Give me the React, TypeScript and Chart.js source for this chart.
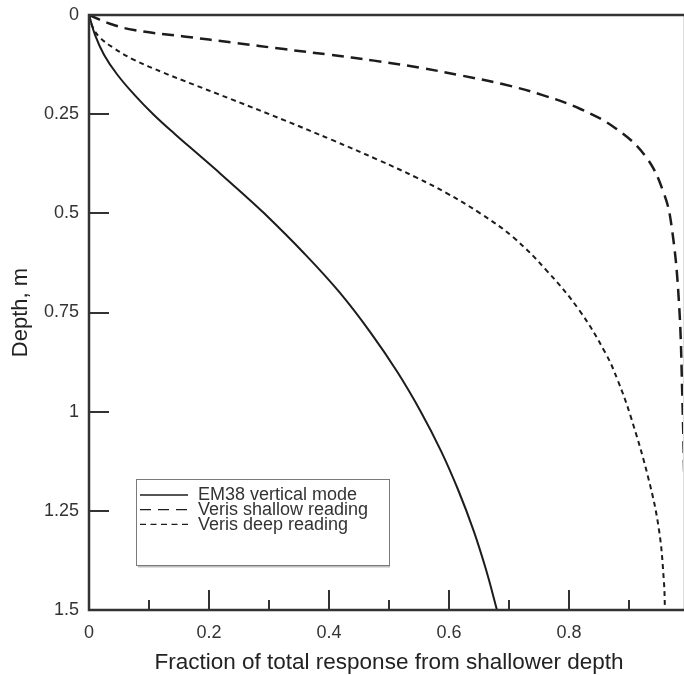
import React, { useEffect, useRef } from "react";
import { Chart, registerables } from "chart.js";

Chart.register(...registerables);

// ---- Data ----
const xTickValues = [0, 0.2, 0.4, 0.6, 0.8, 1];
const xTickLabels = ["0", "0.2", "0.4", "0.6", "0.8", "1"];
const xMinorTicks = [0.1, 0.3, 0.5, 0.7, 0.9];
const yTickValues = [0, 0.25, 0.5, 0.75, 1, 1.25, 1.5];
const yTickLabels = ["0", "0.25", "0.5", "0.75", "1", "1.25", "1.5"];

const xAxisTitle = "Fraction of total response from shallower depth";
const yAxisTitle = "Depth, m";

const seriesLabels = ["EM38 vertical mode", "Veris shallow reading", "Veris deep reading"];

// EM38 vertical mode (solid)
const em38Depth = [0, 0.05, 0.1, 0.15, 0.2, 0.25, 0.3, 0.35, 0.4, 0.45, 0.5, 0.6, 0.7, 0.8, 0.9, 1.0, 1.1, 1.2, 1.3, 1.4, 1.5];
const em38Fraction = [0, 0.01, 0.025, 0.047, 0.075, 0.107, 0.143, 0.181, 0.219, 0.256, 0.292, 0.358, 0.418, 0.469, 0.514, 0.553, 0.587, 0.616, 0.641, 0.662, 0.68];

// Veris shallow reading (long dashes)
const shallowDepth = [0, 0.022, 0.038, 0.054, 0.07, 0.086, 0.1, 0.115, 0.134, 0.153, 0.174, 0.202, 0.237, 0.286, 0.357, 0.449, 0.533, 0.718, 0.97, 1.25, 1.5];
const shallowFraction = [0, 0.035, 0.075, 0.158, 0.242, 0.325, 0.4, 0.475, 0.556, 0.622, 0.689, 0.756, 0.819, 0.878, 0.928, 0.958, 0.971, 0.983, 0.989, 0.993, 0.995];

// Veris deep reading (short dashes)
const deepDepth = [0, 0.03, 0.055, 0.084, 0.113, 0.146, 0.164, 0.214, 0.265, 0.315, 0.366, 0.41, 0.449, 0.5, 0.559, 0.643, 0.744, 0.853, 0.92, 1.013, 1.172, 1.298, 1.424, 1.5];
const deepFraction = [0, 0.006, 0.017, 0.042, 0.075, 0.125, 0.155, 0.24, 0.325, 0.405, 0.483, 0.546, 0.596, 0.652, 0.706, 0.762, 0.817, 0.861, 0.881, 0.903, 0.933, 0.95, 0.958, 0.96];

const FONT = "'Liberation Sans', Arial, Helvetica, sans-serif";
const INK = "#1c1c1c";
const TEXT = "#333333";

const toPoints = (depth: number[], frac: number[]) =>
  depth.map((d, i) => ({ x: frac[i], y: d }));

const frameAndTicks = {
  id: "frameAndTicks",
  afterDatasetsDraw(chart: any) {
    const { ctx, chartArea: a, scales } = chart;
    const x = scales.x;
    const y = scales.y;
    ctx.save();
    ctx.strokeStyle = "#dcdcdc";
    ctx.lineWidth = 1;
    ctx.beginPath();
    ctx.moveTo(683.5, a.top);
    ctx.lineTo(683.5, a.bottom);
    ctx.stroke();

    ctx.strokeStyle = "#333";
    ctx.lineCap = "butt";
    ctx.lineWidth = 2;
    ctx.beginPath();
    for (const v of xTickValues) {
      const px = Math.round(x.getPixelForValue(v));
      ctx.moveTo(px, a.bottom);
      ctx.lineTo(px, a.bottom - 20);
    }
    for (const v of xMinorTicks) {
      const px = Math.round(x.getPixelForValue(v));
      ctx.moveTo(px, a.bottom);
      ctx.lineTo(px, a.bottom - 10);
    }
    for (const v of yTickValues) {
      const py = Math.round(y.getPixelForValue(v));
      ctx.moveTo(a.left, py);
      ctx.lineTo(a.left + 20, py);
    }
    ctx.stroke();
    ctx.lineWidth = 2.5;
    ctx.beginPath();
    ctx.moveTo(chart.width, a.top);
    ctx.lineTo(a.left, a.top);
    ctx.lineTo(a.left, a.bottom);
    ctx.lineTo(chart.width, a.bottom);
    ctx.stroke();
    ctx.restore();
  },
};

const boxLegend = {
  id: "boxLegend",
  afterDraw(chart: any, _args: any, opts: any) {
    const { ctx } = chart;
    const left = opts.left;
    const top = opts.top;
    const w = opts.width;
    const h = opts.height;
    ctx.save();
    ctx.fillStyle = "#fff";
    ctx.fillRect(left, top, w, h);
    ctx.strokeStyle = "#bdbdbd";
    ctx.lineWidth = 2;
    ctx.beginPath();
    ctx.moveTo(left + 2, top + h + 1.5);
    ctx.lineTo(left + w + 1, top + h + 1.5);
    ctx.stroke();
    ctx.strokeStyle = "#7a7a7a";
    ctx.lineWidth = 1;
    ctx.strokeRect(left + 0.5, top + 0.5, w, h);

    const rows = [top + 16, top + 30.7, top + 45.4];
    chart.data.datasets.forEach((ds: any, i: number) => {
      const ry = rows[i];
      ctx.strokeStyle = INK;
      ctx.lineWidth = 1.3;
      ctx.setLineDash(ds.legendDash || []);
      ctx.beginPath();
      ctx.moveTo(left + 4, ry);
      ctx.lineTo(left + 52, ry);
      ctx.stroke();
      ctx.setLineDash([]);
      ctx.fillStyle = TEXT;
      ctx.font = `18px ${FONT}`;
      ctx.textBaseline = "middle";
      ctx.textAlign = "left";
      ctx.fillText(ds.label, left + 62, ry + 0.5);
    });
    ctx.restore();
  },
};

export default function App() {
  const canvasRef = useRef<HTMLCanvasElement | null>(null);

  useEffect(() => {
    const canvas = canvasRef.current;
    if (!canvas) return;
    const chart = new Chart(canvas, {
      type: "scatter",
      data: {
        datasets: [
          {
            label: seriesLabels[0],
            data: toPoints(em38Depth, em38Fraction),
            showLine: true,
            borderColor: INK,
            borderWidth: 2,
            pointRadius: 0,
            tension: 0.4,
            legendDash: [],
          } as any,
          {
            label: seriesLabels[1],
            data: toPoints(shallowDepth, shallowFraction),
            showLine: true,
            borderColor: INK,
            borderWidth: 2.5,
            borderDash: [12, 7],
            pointRadius: 0,
            tension: 0.4,
            legendDash: [11, 7],
          } as any,
          {
            label: seriesLabels[2],
            data: toPoints(deepDepth, deepFraction),
            showLine: true,
            borderColor: INK,
            borderWidth: 2,
            borderDash: [5, 4],
            pointRadius: 0,
            tension: 0.4,
            legendDash: [6, 4.5],
          } as any,
        ],
      },
      options: {
        animation: false,
        responsive: false,
        maintainAspectRatio: false,
        devicePixelRatio: 1,
        layout: { padding: { left: 0, right: 11, top: 15, bottom: 0 } },
        plugins: {
          legend: { display: false },
          tooltip: { enabled: false },
          boxLegend: { left: 136, top: 479, width: 253, height: 86 },
        } as any,
        scales: {
          x: {
            type: "linear",
            min: 0,
            max: 1,
            grid: { display: false, drawTicks: false },
            border: { display: false },
            afterBuildTicks: (s: any) => {
              s.ticks = xTickValues.map((v) => ({ value: v }));
            },
            afterFit: (s: any) => {
              s.height = 65;
              s.paddingLeft = 0;
              s.paddingRight = 0;
            },
            ticks: {
              padding: 12,
              color: TEXT,
              font: { size: 18, family: FONT },
              maxRotation: 0,
              autoSkip: false,
              callback: (_v: any, i: number) => xTickLabels[i] ?? "",
            },
            title: {
              display: true,
              text: xAxisTitle,
              color: "#222",
              font: { size: 22.5, family: FONT, lineHeight: 1 },
              padding: { top: 0, bottom: 1 },
            },
          },
          y: {
            type: "linear",
            min: 0,
            max: 1.5,
            reverse: true,
            grid: { display: false, drawTicks: false },
            border: { display: false },
            afterBuildTicks: (s: any) => {
              s.ticks = yTickValues.map((v) => ({ value: v }));
            },
            afterFit: (s: any) => {
              s.width = 89;
              s.paddingTop = 0;
              s.paddingBottom = 0;
            },
            ticks: {
              padding: 10,
              color: TEXT,
              font: { size: 18, family: FONT },
              autoSkip: false,
              callback: (_v: any, i: number) => yTickLabels[i] ?? "",
            },
            title: {
              display: true,
              text: yAxisTitle,
              color: "#222",
              font: { size: 22, family: FONT, lineHeight: 1 },
              padding: { top: 10, bottom: 0 },
            },
          },
        },
      },
      plugins: [frameAndTicks, boxLegend],
    });
    return () => chart.destroy();
  }, []);

  return (
    <div
      style={{
        position: "fixed",
        left: 0,
        top: 0,
        width: 684,
        height: 675,
        overflow: "hidden",
        background: "#fff",
      }}
    >
      <canvas ref={canvasRef} width={700} height={675} style={{ display: "block" }} />
    </div>
  );
}
